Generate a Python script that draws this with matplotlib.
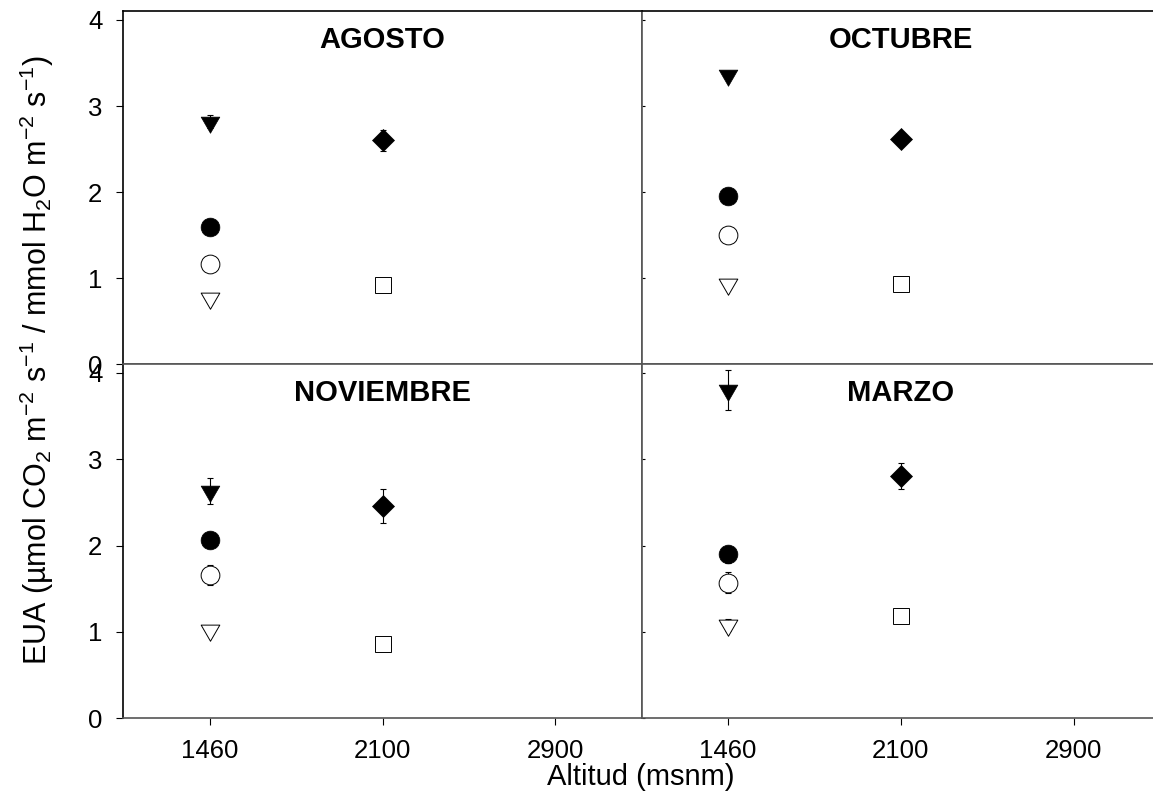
import numpy as np
import matplotlib
matplotlib.use("Agg")
import matplotlib.pyplot as plt
from matplotlib.path import Path

plt.rcParams["font.family"] = "Liberation Sans"
plt.rcParams["mathtext.fontset"] = "custom"
plt.rcParams["mathtext.rm"] = "Liberation Sans"
plt.rcParams["mathtext.it"] = "Liberation Sans:italic"
plt.rcParams["mathtext.bf"] = "Liberation Sans:bold"

# Panels (months) and altitude categories
months = ["AGOSTO", "OCTUBRE", "NOVIEMBRE", "MARZO"]
altitudes = ["1460", "2100", "2900"]

# Mean WUE per month (order of months) and standard error
tri_fill_alt = "1460"
tri_fill_mean = [2.82, 3.36, 2.63, 3.80]
tri_fill_err = [0.08, 0.03, 0.15, 0.23]

circ_fill_alt = "1460"
circ_fill_mean = [1.59, 1.95, 2.06, 1.90]
circ_fill_err = [0.03, 0.03, 0.03, 0.10]

circ_open_alt = "1460"
circ_open_mean = [1.17, 1.50, 1.66, 1.57]
circ_open_err = [0.03, 0.03, 0.12, 0.12]

tri_open_alt = "1460"
tri_open_mean = [0.77, 0.93, 1.02, 1.08]
tri_open_err = [0.03, 0.03, 0.03, 0.07]

diam_alt = "2100"
diam_mean = [2.60, 2.62, 2.46, 2.81]
diam_err = [0.12, 0.04, 0.20, 0.15]

sq_alt = "2100"
sq_mean = [0.92, 0.93, 0.86, 1.19]
sq_err = [0.03, 0.03, 0.03, 0.03]

# down triangle centred on its centroid (as in the original software)
tri_down = Path([(-1, 0.577), (1, 0.577), (0, -1.155), (-1, 0.577)],
                [Path.MOVETO, Path.LINETO, Path.LINETO, Path.CLOSEPOLY])

series = [
    (tri_fill_alt, tri_fill_mean, tri_fill_err, dict(marker=tri_down, ms=15.5, mfc="black")),
    (circ_fill_alt, circ_fill_mean, circ_fill_err, dict(marker="o", ms=13.5, mfc="black")),
    (circ_open_alt, circ_open_mean, circ_open_err, dict(marker="o", ms=13.5, mfc="white")),
    (tri_open_alt, tri_open_mean, tri_open_err, dict(marker=tri_down, ms=15.5, mfc="white")),
    (diam_alt, diam_mean, diam_err, dict(marker="D", ms=11, mfc="black")),
    (sq_alt, sq_mean, sq_err, dict(marker="s", ms=11, mfc="white")),
]

W, H = 1153, 794
fig = plt.figure(figsize=(W / 100, H / 100), dpi=100)

x0 = [123.3 / W, 641.7 / W]
pw = 518.4 / W
y0 = [1 - 364.3 / H, 1 - 718.3 / H]
ph = [353 / H, 354 / H]

grey = "#555555"
for i, month in enumerate(months):
    row, col = divmod(i, 2)
    ax = fig.add_axes([x0[col], y0[row], pw, ph[row]])

    for alt, mean, err, style in series:
        ax.errorbar(altitudes.index(alt), mean[i], yerr=err[i], fmt="none",
                    ecolor="black", elinewidth=0.8, capsize=2.5, capthick=0.8,
                    zorder=2)
        ax.plot(altitudes.index(alt), mean[i], linestyle="none", mec="black",
                mew=0.7 if style["mfc"] == "white" else 0.5, zorder=3, **style)

    ax.set_xlim(-0.5, 2.5)
    ax.set_ylim(0, 4.1)
    ax.set_yticks([0, 1, 2, 3, 4])
    ax.set_xticks(range(len(altitudes)))

    if col == 0:
        ax.tick_params(axis="y", direction="out", length=5, width=0.8,
                       pad=10, labelsize=18.5)
    else:
        ax.tick_params(axis="y", direction="in", length=2, width=0.8,
                       labelleft=False)
    if row == 1:
        ax.set_xticklabels(altitudes)
        ax.tick_params(axis="x", direction="out", length=5, width=0.8,
                       pad=10, labelsize=18.5)
    else:
        ax.tick_params(axis="x", length=0, labelbottom=False)

    for side in ["left", "top"]:
        ax.spines[side].set_color("black" if (side == "left" and col == 0) or
                                  (side == "top" and row == 0) else grey)
    for side in ["bottom", "right"]:
        ax.spines[side].set_color(grey)
    for s in ax.spines.values():
        s.set_linewidth(1.2)

    ax.text(0.5, 0.895, month, transform=ax.transAxes, ha="center",
            va="baseline", fontsize=21, fontweight="bold")

fig.text(641 / W, 1 - 785 / H, "Altitud (msnm)", ha="center",
         va="baseline", fontsize=21)
fig.text(37 / W, 1 - 360 / H,
         r"EUA (µmol CO$_2$ m$^{-2}$ s$^{-1}$ / mmol H$_2$O m$^{-2}$ s$^{-1}$)",
         ha="center", va="center", rotation=90, fontsize=22)

fig.savefig("out.png", dpi=100)
